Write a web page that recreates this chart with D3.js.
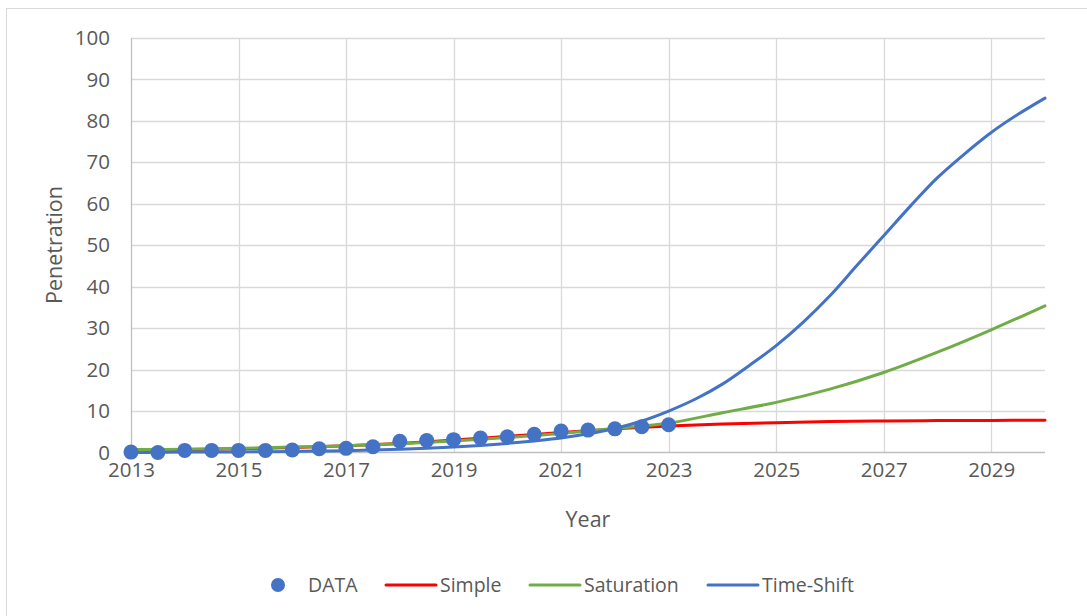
<!DOCTYPE html>
<html>
<head>
<meta charset="utf-8">
<script src="https://cdn.jsdelivr.net/npm/d3@7"></script>
<style>
  html, body { margin: 0; padding: 0; background: #fff; }
  svg { display: block; font-family: "Open Sans", "Liberation Sans", sans-serif; }
</style>
</head>
<body>
<svg id="chart" width="1087" height="616"></svg>
<script>
// observed data (half-year steps)
const dataYears = [2013, 2013.5, 2014, 2014.5, 2015, 2015.5, 2016, 2016.5, 2017, 2017.5, 2018,
  2018.5, 2019, 2019.5, 2020, 2020.5, 2021, 2021.5, 2022, 2022.5, 2023];
const dataValues = [0.1, 0, 0.5, 0.5, 0.5, 0.5, 0.6, 0.9, 1.0, 1.4, 2.7,
  2.9, 3.1, 3.5, 3.8, 4.4, 5.2, 5.4, 5.7, 6.2, 6.7];

// model fits
const fitYears = [2013, 2014, 2015, 2016, 2017, 2018, 2019, 2020, 2021, 2022, 2023,
  2024, 2025, 2026, 2027, 2028, 2029, 2030];
const simpleValues = [0.5, 0.7, 0.9, 1.2, 1.6, 2.2, 3.0, 3.9, 4.8, 5.7, 6.4,
  6.9, 7.2, 7.45, 7.6, 7.7, 7.75, 7.8];
const saturationValues = [0.7, 0.8, 1.0, 1.3, 1.6, 2.1, 2.8, 3.6, 4.6, 5.8, 7.1,
  9.6, 12.1, 15.3, 19.3, 24.2, 29.6, 35.4];

const shiftYears = [2013, 2013.5, 2014, 2014.5, 2015, 2015.5, 2016, 2016.5, 2017, 2017.5, 2018,
  2018.5, 2019, 2019.5, 2020, 2020.5, 2021, 2021.5, 2022, 2022.5, 2023, 2023.5, 2024,
  2024.5, 2025, 2025.5, 2026, 2026.5, 2027, 2027.5, 2028, 2028.5, 2029, 2029.5, 2030];
const shiftValues = [0, 0.05, 0.1, 0.1, 0.15, 0.2, 0.25, 0.35, 0.45, 0.6, 0.8,
  1.0, 1.3, 1.7, 2.2, 2.8, 3.5, 4.5, 5.8, 7.6, 10.0, 12.9, 16.5,
  21.0, 25.8, 31.4, 37.8, 45.1, 52.3, 59.5, 66.3, 72.0, 77.2, 81.6, 85.5];

const xTicks = [2013, 2015, 2017, 2019, 2021, 2023, 2025, 2027, 2029];
const yTicks = [0, 10, 20, 30, 40, 50, 60, 70, 80, 90, 100];

const seriesNames = ['DATA', 'Simple', 'Saturation', 'Time-Shift'];
const seriesColors = ['#4472c4', '#ff0000', '#70ad47', '#4472c4'];

const svg = d3.select('#chart');
const textColor = '#595959';

// chart frame
svg.append('rect')
  .attr('x', 6.5).attr('y', 8.5)
  .attr('width', 1100).attr('height', 620)
  .attr('fill', '#fff').attr('stroke', '#d9d9d9');

const xScale = d3.scaleLinear().domain([2013, 2030]).range([131, 1045]);
const yScale = d3.scaleLinear().domain([0, 100]).range([452.5, 38]);

// gridlines
svg.append('g')
  .selectAll('line.h')
  .data(yTicks.filter(d => d > 0))
  .join('line')
  .attr('x1', xScale(2013)).attr('x2', xScale(2030))
  .attr('y1', d => Math.round(yScale(d)) + 0.5).attr('y2', d => Math.round(yScale(d)) + 0.5)
  .attr('stroke', '#d9d9d9').attr('stroke-width', 1.3);

svg.append('g')
  .selectAll('line.v')
  .data(xTicks)
  .join('line')
  .attr('x1', d => Math.round(xScale(d)) + 0.5).attr('x2', d => Math.round(xScale(d)) + 0.5)
  .attr('y1', yScale(100)).attr('y2', yScale(0))
  .attr('stroke', d => d === 2013 ? '#bfbfbf' : '#d9d9d9').attr('stroke-width', 1.3);

// bottom axis line
svg.append('line')
  .attr('x1', xScale(2013)).attr('x2', xScale(2030))
  .attr('y1', yScale(0)).attr('y2', yScale(0))
  .attr('stroke', '#bfbfbf').attr('stroke-width', 1.5);

// tick labels via d3 axes (no domain/ticks)
const yAxis = svg.append('g')
  .attr('transform', `translate(${xScale(2013)},0)`)
  .call(d3.axisLeft(yScale).tickValues(yTicks).tickSize(0).tickPadding(21));
const xAxis = svg.append('g')
  .attr('transform', `translate(0,${yScale(0)})`)
  .call(d3.axisBottom(xScale).tickValues(xTicks).tickFormat(d3.format('d')).tickSize(0).tickPadding(10));
[yAxis, xAxis].forEach(a => {
  a.select('.domain').remove();
  a.selectAll('text').attr('fill', textColor).style('font-size', '20.5px')
    .style('font-family', '"Open Sans", "Liberation Sans", sans-serif');
});

// axis titles
svg.append('text')
  .attr('x', 588).attr('y', 527)
  .attr('text-anchor', 'middle')
  .attr('fill', textColor).style('font-size', '21.5px')
  .text('Year');
svg.append('text')
  .attr('transform', 'translate(62,245) rotate(-90)')
  .attr('text-anchor', 'middle')
  .attr('fill', textColor).style('font-size', '21.5px')
  .text('Penetration');

// lines
const line = d3.line()
  .x(d => xScale(d[0]))
  .y(d => yScale(d[1]))
  .curve(d3.curveCatmullRom.alpha(0.5));

const lineSets = [
  [fitYears, simpleValues, seriesColors[1]],
  [fitYears, saturationValues, seriesColors[2]],
  [shiftYears, shiftValues, seriesColors[3]]
];
lineSets.forEach(([xs, ys, color]) => {
  svg.append('path')
    .datum(xs.map((x, i) => [x, ys[i]]))
    .attr('fill', 'none')
    .attr('stroke', color)
    .attr('stroke-width', 3)
    .attr('stroke-linecap', 'round')
    .attr('d', line);
});

// data points
svg.append('g')
  .selectAll('circle')
  .data(dataYears.map((x, i) => [x, dataValues[i]]))
  .join('circle')
  .attr('cx', d => xScale(d[0]))
  .attr('cy', d => yScale(d[1]))
  .attr('r', 7.5)
  .attr('fill', seriesColors[0]);

// legend
const legend = svg.append('g').attr('transform', 'translate(0,585)');
const legendItems = [
  { name: seriesNames[0], x: 278, type: 'dot' },
  { name: seriesNames[1], x: 386, type: 'line' },
  { name: seriesNames[2], x: 530, type: 'line' },
  { name: seriesNames[3], x: 708, type: 'line' }
];
legendItems.forEach((item, i) => {
  if (item.type === 'dot') {
    legend.append('circle').attr('cx', item.x).attr('cy', 0).attr('r', 7).attr('fill', seriesColors[i]);
    legend.append('text').attr('x', item.x + 30).attr('y', 0).attr('dy', '0.35em')
      .attr('fill', textColor).style('font-size', '19.5px').text(item.name);
  } else {
    legend.append('line').attr('x1', item.x).attr('x2', item.x + 50)
      .attr('y1', 0).attr('y2', 0)
      .attr('stroke', seriesColors[i]).attr('stroke-width', 3).attr('stroke-linecap', 'round');
    legend.append('text').attr('x', item.x + 54).attr('y', 0).attr('dy', '0.35em')
      .attr('fill', textColor).style('font-size', '19.5px').text(item.name);
  }
});
</script>
</body>
</html>
